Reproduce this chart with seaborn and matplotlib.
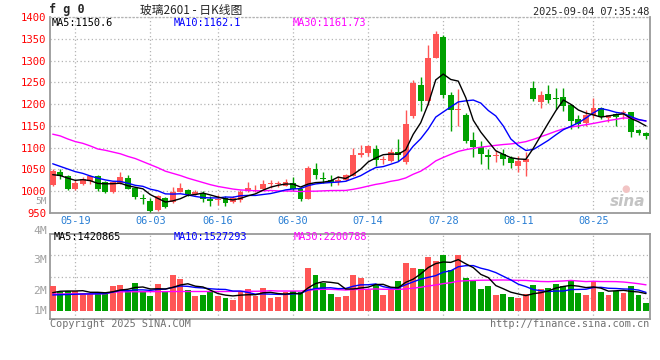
import numpy as np
import pandas as pd
import matplotlib
matplotlib.use("Agg")
import matplotlib.pyplot as plt
import seaborn as sns

sns.set_style("white")
plt.rcParams['font.family'] = ['DejaVu Sans Mono', 'Noto Sans CJK SC']

# ---------------- data ----------------
opens = [1015, 1044, 1035, 1004, 1017, 1023, 1036, 1021, 999, 1020,
         1030, 1008, 984, 978, 956, 985, 975, 999, 1003, 994,
         995, 981, 979, 985, 975, 979, 1000, 1004, 1004, 1016,
         1017, 1013, 1019, 1005, 983, 1051, 1030, 1026, 1021, 1026,
         1036, 1084, 1087, 1098, 1071, 1069, 1091, 1067, 1172, 1243,
         1206, 1307, 1355, 1220, 1186, 1174, 1117, 1102, 1083, 1080,
         1085, 1077, 1058, 1066, 1237, 1205, 1224, 1213, 1217, 1199,
         1165, 1156, 1175, 1190, 1169, 1177, 1179, 1181, 1141, 1133]
closes = [1047, 1035, 1004, 1020, 1027, 1035, 1004, 999, 1021, 1033,
          1006, 986, 982, 954, 990, 964, 999, 1007, 994, 998,
          981, 977, 983, 974, 985, 998, 1007, 1006, 1016, 1019,
          1020, 1022, 1005, 982, 1053, 1037, 1027, 1019, 1026, 1037,
          1083, 1087, 1103, 1071, 1075, 1091, 1084, 1154, 1249, 1208,
          1306, 1361, 1221, 1187, 1189, 1116, 1102, 1085, 1078, 1083,
          1075, 1064, 1070, 1074, 1211, 1220, 1209, 1211, 1196, 1161,
          1155, 1174, 1190, 1171, 1174, 1170, 1183, 1137, 1133, 1126]
highs = [1050, 1050, 1038, 1025, 1033, 1037, 1038, 1023, 1024, 1043,
         1037, 1010, 994, 985, 991, 987, 1009, 1019, 1006, 1003,
         1000, 990, 991, 988, 988, 1002, 1022, 1015, 1025, 1026,
         1024, 1027, 1032, 1010, 1057, 1064, 1043, 1038, 1036, 1040,
         1100, 1106, 1106, 1106, 1080, 1098, 1119, 1186, 1255, 1262,
         1335, 1369, 1358, 1228, 1235, 1179, 1136, 1116, 1097, 1095,
         1097, 1080, 1080, 1090, 1252, 1230, 1243, 1238, 1238, 1200,
         1176, 1186, 1215, 1194, 1176, 1179, 1187, 1183, 1144, 1136]
lows = [1012, 1027, 1002, 1003, 1014, 1016, 1001, 996, 997, 1016,
        1004, 983, 971, 952, 954, 961, 973, 998, 990, 991,
        976, 967, 968, 967, 974, 975, 998, 998, 1002, 1008,
        1010, 1012, 1000, 977, 982, 1027, 1020, 1013, 1015, 1023,
        1034, 1078, 1080, 1057, 1062, 1066, 1070, 1063, 1168, 1184,
        1199, 1305, 1215, 1138, 1150, 1110, 1078, 1062, 1052, 1068,
        1060, 1053, 1043, 1036, 1207, 1191, 1202, 1188, 1184, 1144,
        1145, 1150, 1169, 1166, 1160, 1150, 1166, 1125, 1128, 1120]
# volume in millions
volumes = [2.06, 1.56, 1.64, 1.64, 1.44, 1.39, 1.56, 1.44, 2.06, 2.14,
           1.73, 2.31, 1.64, 1.23, 2.23, 1.64, 2.98, 2.64, 1.73, 1.23,
           1.31, 1.64, 1.23, 1.08, 0.89, 1.64, 1.81, 1.23, 1.89, 1.08,
           1.14, 1.56, 1.64, 1.56, 3.58, 2.98, 2.31, 1.39, 1.14, 1.23,
           2.98, 2.73, 1.73, 2.23, 1.31, 1.81, 2.48, 3.98, 3.56, 3.48,
           4.48, 4.14, 4.64, 3.39, 4.64, 2.73, 2.56, 1.81, 2.06, 1.31,
           1.39, 1.14, 1.06, 1.39, 2.11, 1.81, 1.89, 2.23, 2.06, 2.56,
           1.48, 1.31, 2.48, 1.56, 1.31, 1.64, 1.48, 2.06, 1.31, 0.64]

# moving-average values before enough history exists
ma5_head = [1038, 1036, 1030, 1025]
ma10_head = [1063, 1057, 1051, 1045, 1041, 1035, 1030, 1026, 1023]
ma30_head = [1131, 1127, 1120, 1114, 1110, 1104, 1097, 1094, 1090, 1086,
             1080, 1075, 1068, 1061, 1054, 1046, 1041, 1036, 1030, 1025,
             1020, 1015, 1011, 1008, 1005, 1003, 1002, 1001, 1001]
vma5_head = [1.50, 1.62, 1.64, 1.64]
vma10_head = [1.31, 1.33, 1.35, 1.37, 1.39, 1.40, 1.41, 1.43, 1.55]
vma30_head = [1.39, 1.39, 1.40, 1.40, 1.40, 1.40, 1.41, 1.41, 1.55, 1.57,
              1.58, 1.58, 1.58, 1.59, 1.59, 1.59, 1.60, 1.60, 1.60, 1.60,
              1.60, 1.60, 1.60, 1.60, 1.61, 1.61, 1.62, 1.62, 1.63]

tick_idx = [3, 13, 22, 32, 42, 52, 62, 72]
tick_labels = ['05-19', '06-03', '06-16', '06-30', '07-14', '07-28', '08-11', '08-25']
price_ticks = [950, 1000, 1050, 1100, 1150, 1200, 1250, 1300, 1350, 1400]

# ---------------- derived ----------------
df = pd.DataFrame({'open': opens, 'high': highs, 'low': lows,
                   'close': closes, 'vol': volumes})
df['x'] = np.arange(len(df))


def moving(series, n, head):
    m = series.rolling(n).mean()
    m.iloc[:n - 1] = head
    return m


df['ma5'] = moving(df['close'], 5, ma5_head)
df['ma10'] = moving(df['close'], 10, ma10_head)
df['ma30'] = moving(df['close'], 30, ma30_head)
df['vma5'] = moving(df['vol'], 5, vma5_head)
df['vma10'] = moving(df['vol'], 10, vma10_head)
df['vma30'] = moving(df['vol'], 30, vma30_head)

RED = '#ff5555'
GREEN = '#00a000'
up = df['close'] > df['open']
colors = np.where(up, RED, GREEN)

W, H = 660, 360
fig = plt.figure(figsize=(W / 100, H / 100), dpi=100)


def px_axes(l, t, r, b):
    return fig.add_axes([l / W, 1 - b / H, (r - l) / W, (b - t) / H])


def ftext(x, y, s, **kw):
    return fig.text(x / W, 1 - y / H, s, **kw)


GRID = dict(color='#b4b4b4', linestyle=(0, (1, 2)), linewidth=0.9)
SPINE = '#9a9a9a'

# ---------------- price panel ----------------
ax = px_axes(50, 17, 650, 213)
xmin, xmax = -0.36, 79.53
ax.set_xlim(xmin, xmax)
ax.set_ylim(950, 1400)

ax.vlines(df['x'], df['low'], df['high'], colors=colors, linewidth=1.0, zorder=3)
body = (df['close'] - df['open']).abs().clip(lower=2.0)
ax.bar(df['x'], body, bottom=np.minimum(df['open'], df['close']),
       width=0.78, color=colors, linewidth=0, zorder=4)

sns.lineplot(x=df['x'], y=df['ma30'], ax=ax, color='#ff00ff', linewidth=1.0, zorder=5)
sns.lineplot(x=df['x'], y=df['ma10'], ax=ax, color='#0000ff', linewidth=1.0, zorder=5)
sns.lineplot(x=df['x'], y=df['ma5'], ax=ax, color='black', linewidth=1.0, zorder=6)

ax.set_yticks(price_ticks)
ax.set_yticklabels([str(v) for v in price_ticks])
ax.set_xticks(tick_idx)
ax.set_xticklabels(tick_labels)
ax.tick_params(axis='y', length=0, pad=2.5, labelcolor='#ff0000', labelsize=7.6)
ax.tick_params(axis='x', length=0, pad=2.5, labelcolor='#2a7fd4', labelsize=7.4)
ax.grid(True, **GRID)
ax.set_xlabel('')
ax.set_ylabel('')
for s in ['left', 'bottom', 'right']:
    ax.spines[s].set_color(SPINE)
    ax.spines[s].set_linewidth(1.3)
ax.spines['top'].set_color('#b4b4b4')
ax.spines['top'].set_linestyle((0, (1, 2)))
ax.spines['top'].set_linewidth(0.9)

# ---------------- volume panel ----------------
axv = px_axes(50, 234, 650, 319)
axv.set_xlim(xmin, xmax)
base_y, px_per_m = 310.7, 12.0
axv.set_ylim(-(319 - base_y) / px_per_m, (base_y - 234) / px_per_m)
axv.bar(df['x'], df['vol'], width=0.78, color=colors, linewidth=0, zorder=3)
sns.lineplot(x=df['x'], y=df['vma30'], ax=axv, color='#ff00ff', linewidth=1.0, zorder=5)
sns.lineplot(x=df['x'], y=df['vma10'], ax=axv, color='#0000ff', linewidth=1.0, zorder=5)
sns.lineplot(x=df['x'], y=df['vma5'], ax=axv, color='black', linewidth=1.0, zorder=6)
axv.set_xticks(tick_idx)
axv.set_yticks([])
axv.tick_params(axis='x', length=0, labelbottom=False)
axv.grid(True, axis='x', **GRID)
for f in [0.25, 0.5, 0.75]:
    axv.plot([0, 1], [f, f], transform=axv.transAxes, zorder=1, **GRID)
axv.set_xlabel('')
axv.set_ylabel('')
for s in axv.spines.values():
    s.set_color(SPINE)
    s.set_linewidth(1.3)

# ---------------- texts ----------------
ftext(49, 10, 'f g 0', ha='left', va='center', size=8.5, weight='bold')
ftext(140, 10, '玻璃2601 - 日K线图', ha='left', va='center', size=8.5,
      family=['Noto Sans CJK SC', 'DejaVu Sans'])
ftext(649, 12.3, '2025-09-04 07:35:48', ha='right', va='center', size=7.4)

ftext(52, 23.5, 'MA5:1150.6', ha='left', va='center', size=7.4, color='black')
ftext(174, 23.5, 'MA10:1162.1', ha='left', va='center', size=7.4, color='#0000ff')
ftext(293, 23.5, 'MA30:1161.73', ha='left', va='center', size=7.4, color='#ff00ff')

ftext(54, 237.5, 'MA5:1420865', ha='left', va='center', size=7.4, color='black')
ftext(174, 237.5, 'MA10:1527293', ha='left', va='center', size=7.4, color='#0000ff')
ftext(294, 237.5, 'MA30:2200788', ha='left', va='center', size=7.4, color='#ff00ff')

ftext(47, 202, '5M', ha='right', va='center', size=6.8, color='#a0a0a0')
for lab, yy in [('4M', 230.7), ('3M', 260.2), ('2M', 290.7), ('1M', 311)]:
    ftext(47, yy, lab, ha='right', va='center', size=8.2, color='#a0a0a0')

ftext(50, 323.7, 'Copyright 2025 SINA.COM', ha='left', va='center', size=7.3, color='#707070')
ftext(649, 323.7, 'http://finance.sina.com.cn', ha='right', va='center', size=7.3, color='#707070')

ftext(628, 202, 'sina', ha='center', va='center', size=11, color='#c4c4c4',
      style='italic', weight='bold', family='DejaVu Sans')
ftext(626, 189, '●', ha='center', va='center', size=7, color='#f2c4c4', family='DejaVu Sans')

fig.savefig('out.png', dpi=100)
